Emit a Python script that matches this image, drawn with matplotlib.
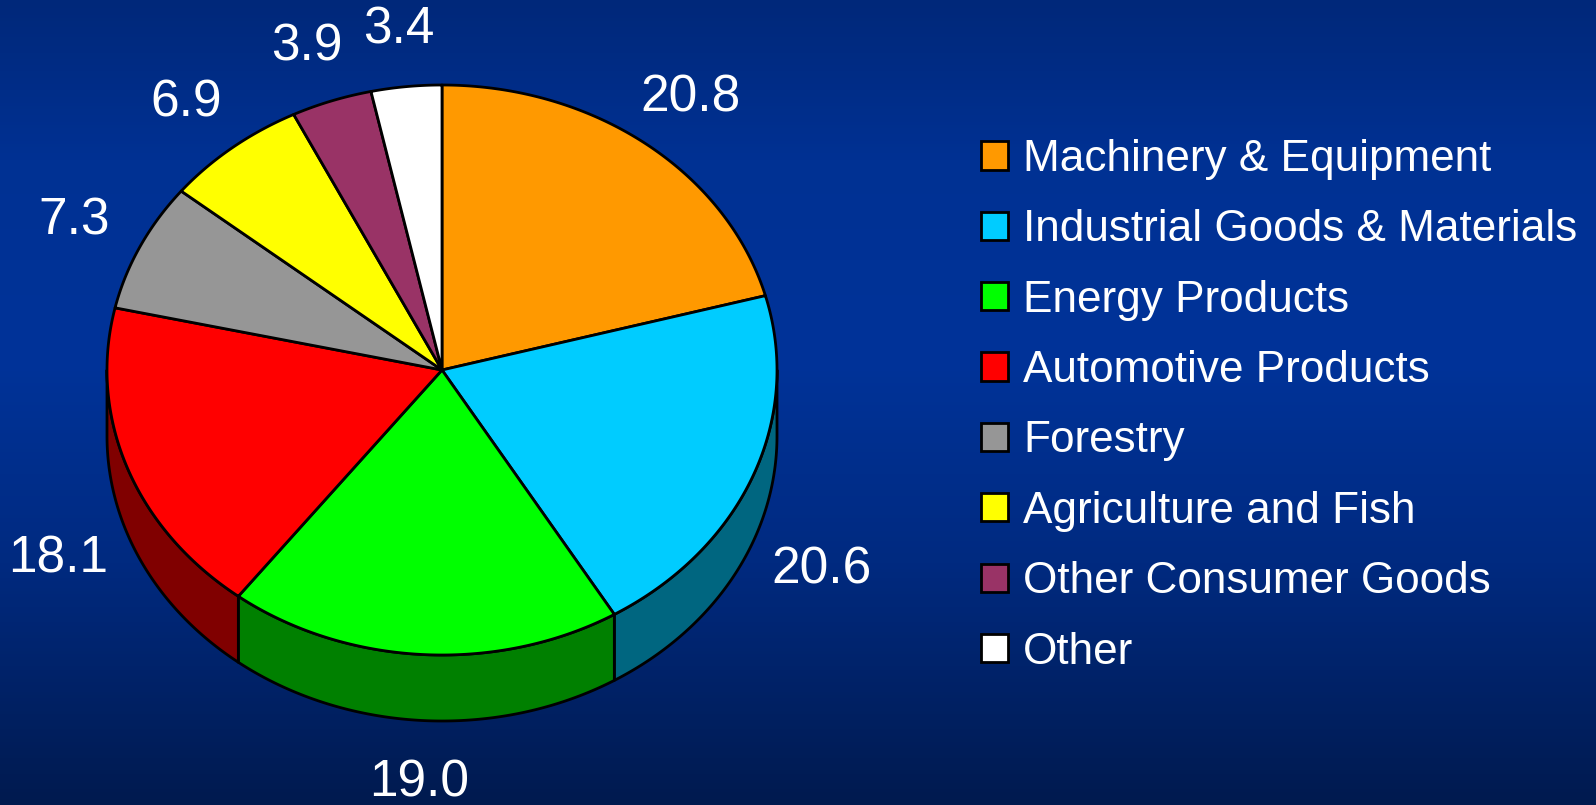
import numpy as np
import matplotlib
matplotlib.use("Agg")
import matplotlib.pyplot as plt
from matplotlib.patches import Polygon, Patch
from matplotlib.colors import LinearSegmentedColormap, to_rgb

# ---- data ----
categories = ["Machinery & Equipment", "Industrial Goods & Materials", "Energy Products",
              "Automotive Products", "Forestry", "Agriculture and Fish",
              "Other Consumer Goods", "Other"]
values = [20.8, 20.6, 19.0, 18.1, 7.3, 6.9, 3.9, 3.4]
colors = ["#FF9900", "#00CCFF", "#00FF00", "#FF0000", "#969696", "#FFFF00", "#993366", "#FFFFFF"]
value_labels = ["20.8", "20.6", "19.0", "18.1", "7.3", "6.9", "3.9", "3.4"]

plt.rcParams['font.family'] = ['Liberation Sans', 'DejaVu Sans']

W, H = 1596, 805
fig = plt.figure(figsize=(W / 100, H / 100), dpi=100)
ax = fig.add_axes([0, 0, 1, 1])
ax.set_xlim(0, W)
ax.set_ylim(H, 0)
ax.axis("off")

# background gradient
bg = LinearSegmentedColormap.from_list("bg", [(0.0, "#00287a"), (0.2, "#003193"),
                                              (0.45, "#003399"), (0.7, "#002a80"),
                                              (1.0, "#001a4f")])
grad = np.linspace(0, 1, 256).reshape(-1, 1)
ax.imshow(grad, cmap=bg, extent=[0, W, H, 0], aspect="auto", zorder=0)

# pie geometry (style)
cx, cy, rx, ry, depth = 442, 370, 335, 285, 66
lw = 2.0

vals = np.array(values, dtype=float)
frac = vals / vals.sum()
cum = np.concatenate([[0], np.cumsum(frac)])
starts = 90 - 360 * cum[:-1]
ends = 90 - 360 * cum[1:]


def pt(t, dy=0.0):
    r = np.radians(t)
    return cx + rx * np.cos(r), cy - ry * np.sin(r) + dy


def darker(c, f=0.5):
    r, g, b = to_rgb(c)
    return (r * f, g * f, b * f)


# side walls
for s, e, c in zip(starts, ends, colors):
    a0, a1 = max(e, -180), min(s, 0)
    if a1 > a0:
        t = np.linspace(a1, a0, 120)
        top = [pt(v) for v in t]
        bot = [pt(v, depth) for v in t[::-1]]
        ax.add_patch(Polygon(top + bot, closed=True, facecolor=darker(c),
                             edgecolor="black", lw=lw, zorder=2, joinstyle="round"))

# top faces
for s, e, c in zip(starts, ends, colors):
    t = np.linspace(s, e, 200)
    poly = [(cx, cy)] + [pt(v) for v in t]
    ax.add_patch(Polygon(poly, closed=True, facecolor=c, edgecolor="black",
                         lw=lw, zorder=3, joinstyle="round"))

# value labels
for s, e, lab in zip(starts, ends, value_labels):
    m = np.radians((s + e) / 2)
    x = cx + rx * 1.22 * np.cos(m)
    y = cy - ry * 1.2 * np.sin(m) + (depth + 6 if np.sin(m) < 0 else 0)
    ax.text(x, y, lab, color="white", fontsize=37, ha="center", va="center", zorder=5)

# legend
handles = [Patch(facecolor=c, edgecolor="black", lw=2) for c in colors]
leg = ax.legend(handles, categories, loc="upper left",
                bbox_to_anchor=(981 / W, 1 - 139 / H), bbox_transform=fig.transFigure,
                frameon=False, fontsize=31.8, labelcolor="white",
                handlelength=0.61, handleheight=0.61, handletextpad=0.34,
                labelspacing=0.665, borderpad=0, borderaxespad=0)

fig.savefig("out.png", dpi=100)
